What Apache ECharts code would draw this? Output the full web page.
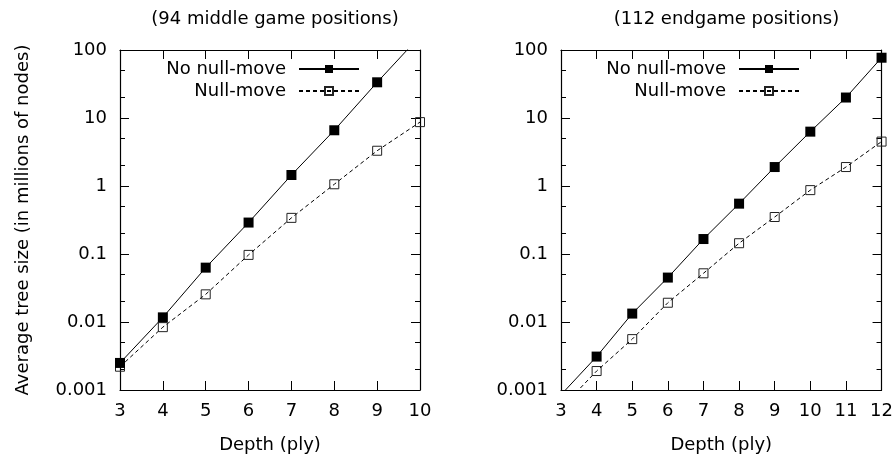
<!DOCTYPE html>
<html>
<head>
<meta charset="utf-8">
<script src="https://cdn.jsdelivr.net/npm/echarts@6/dist/echarts.min.js"></script>
<style>html,body{margin:0;padding:0;background:#fff;}#c{width:896px;height:459px;}</style>
</head>
<body>
<div id="c"></div>
<script>
// Data
const depthMid = [3, 4, 5, 6, 7, 8, 9, 10];
const midNoNull = [0.0025, 0.0117, 0.063, 0.29, 1.45, 6.6, 33.5, 160];
const midNull = [0.0022, 0.0084, 0.0255, 0.097, 0.34, 1.06, 3.3, 8.7];
const depthEnd = [3, 4, 5, 6, 7, 8, 9, 10, 11, 12];
const endNoNull = [0.00085, 0.0031, 0.0133, 0.045, 0.166, 0.55, 1.9, 6.3, 20, 77];
const endNull = [0.00054, 0.0019, 0.0056, 0.0192, 0.052, 0.144, 0.35, 0.87, 1.9, 4.5];
const seriesNames = ['No null-move', 'Null-move'];
const titles = ['(94 middle game positions)', '(112 endgame positions)'];
const xName = 'Depth (ply)';
const yName = 'Average tree size (in millions of nodes)';

const FONT = 'DejaVu Sans';
const FS = 18;
const minorVals = [];
for (let k = -3; k < 2; k++) { minorVals.push(k + Math.log10(2), k + Math.log10(5)); }

const grids = [
  { left: 120, top: 50, width: 300, height: 341, xmin: 3, xmax: 10 },
  { left: 561, top: 50, width: 321, height: 341, xmin: 3, xmax: 12 }
];

const lineCol = '#000';
function xAxes(gi, g) {
  const base = {
    gridIndex: gi, type: 'value', min: g.xmin, max: g.xmax, interval: 1,
    axisLine: { show: true, onZero: false, lineStyle: { color: lineCol, width: 1.2 } },
    axisTick: { show: true, inside: true, length: 9, lineStyle: { color: lineCol } },
    splitLine: { show: false }
  };
  return [
    Object.assign({}, base, {
      position: 'bottom',
      axisLabel: { show: true, color: '#000', fontFamily: FONT, fontSize: FS, margin: 12 },
      name: xName, nameLocation: 'middle', nameGap: 46,
      nameTextStyle: { color: '#000', fontFamily: FONT, fontSize: FS }
    }),
    Object.assign({}, base, { position: 'top', axisLabel: { show: false } })
  ];
}
function yAxes(gi, withName) {
  const logBase = {
    gridIndex: gi, type: 'log', logBase: 10, min: 0.001, max: 100,
    axisLine: { show: true, onZero: false, lineStyle: { color: lineCol, width: 1.2 } },
    axisTick: { show: true, inside: true, length: 9, lineStyle: { color: lineCol } },
    splitLine: { show: false }, minorTick: { show: false }
  };
  const minorBase = {
    gridIndex: gi, type: 'value', min: -3, max: 2,
    axisLine: { show: false },
    axisLabel: { show: false },
    axisTick: { show: true, inside: true, length: 5, customValues: minorVals, lineStyle: { color: lineCol } },
    splitLine: { show: false }
  };
  const left = Object.assign({}, logBase, {
    position: 'left',
    axisLabel: {
      show: true, color: '#000', fontFamily: FONT, fontSize: FS, margin: 13,
      formatter: v => String(Number(Number(v).toPrecision(2)))
    }
  });
  if (withName) {
    Object.assign(left, {
      name: yName, nameLocation: 'middle', nameGap: 88,
      nameTextStyle: { color: '#000', fontFamily: FONT, fontSize: FS }
    });
  }
  return [
    left,
    Object.assign({}, logBase, { position: 'right', axisLabel: { show: false } }),
    Object.assign({}, minorBase, { position: 'left' }),
    Object.assign({}, minorBase, { position: 'right' })
  ];
}

function mkSeries(name, xs, ys, xi, yi, filled) {
  return {
    name: name, type: 'line', xAxisIndex: xi, yAxisIndex: yi, clip: true,
    data: xs.map((x, i) => [x, ys[i]]),
    symbol: 'rect', symbolSize: filled ? 10 : 9,
    showAllSymbol: true,
    lineStyle: { color: '#000', width: 1, type: filled ? 'solid' : [4, 3] },
    itemStyle: filled ? { color: '#000' } : { color: 'rgba(0,0,0,0)', borderColor: '#222', borderWidth: 1 },
    emphasis: { disabled: true },
    z: filled ? 3 : 2
  };
}

const legendBase = {
  orient: 'vertical', align: 'right', top: 60, itemGap: 4, padding: 0,
  itemWidth: 60, itemHeight: 10, selectedMode: false,
  textStyle: { color: '#000', fontFamily: FONT, fontSize: FS, padding: [0, 8, 0, 0] },
  data: seriesNames
};

const option = {
  animation: false,
  backgroundColor: '#fff',
  title: [
    { text: titles[0], left: grids[0].left + grids[0].width / 2, textAlign: 'center', top: 5,
      textStyle: { fontFamily: FONT, fontSize: FS, fontWeight: 'normal', color: '#000' } },
    { text: titles[1], left: grids[1].left + grids[1].width / 2, textAlign: 'center', top: 5,
      textStyle: { fontFamily: FONT, fontSize: FS, fontWeight: 'normal', color: '#000' } }
  ],
  legend: [
    Object.assign({}, legendBase, { right: 896 - 360 }),
    Object.assign({}, legendBase, { right: 896 - 800 })
  ],
  grid: grids.map(g => ({ left: g.left, top: g.top, width: g.width, height: g.height, containLabel: false })),
  xAxis: [].concat(xAxes(0, grids[0]), xAxes(1, grids[1])),
  yAxis: [].concat(yAxes(0, true), yAxes(1, false)),
  series: [
    mkSeries(seriesNames[0], depthMid, midNoNull, 0, 0, true),
    mkSeries(seriesNames[1], depthMid, midNull, 0, 0, false),
    mkSeries(seriesNames[0], depthEnd, endNoNull, 2, 4, true),
    mkSeries(seriesNames[1], depthEnd, endNull, 2, 4, false)
  ]
};

const chart = echarts.init(document.getElementById('c'), null, { renderer: 'canvas' });
chart.setOption(option);
</script>
</body>
</html>
